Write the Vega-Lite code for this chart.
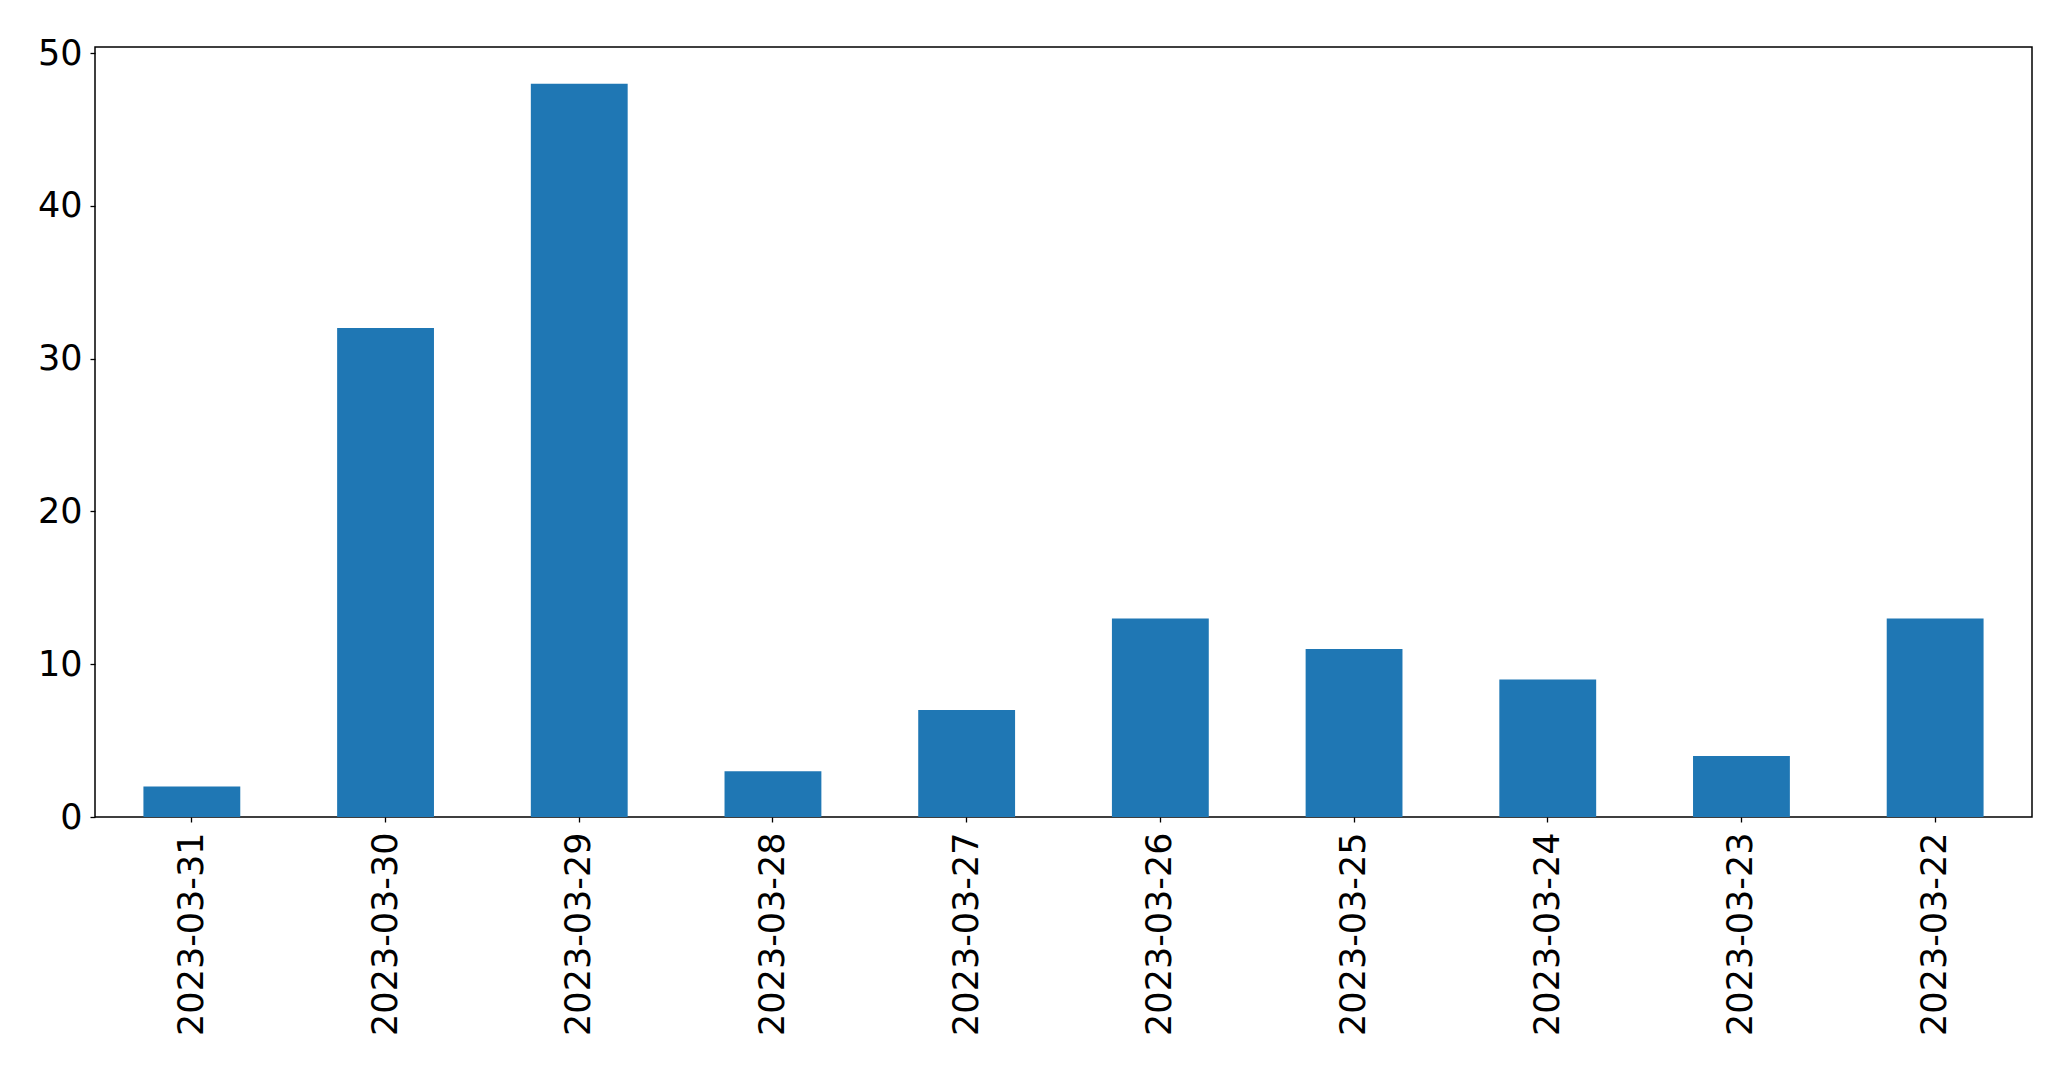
{
  "$schema": "https://vega.github.io/schema/vega-lite/v6.json",
  "autosize": "none",
  "width": 1937,
  "height": 770,
  "padding": {"left": 95, "top": 47, "right": 39, "bottom": 252},
  "background": "white",
  "config": {
    "view": {"stroke": "black", "strokeWidth": 1.5},
    "font": "DejaVu Sans",
    "axis": {"grid": false, "domain": false, "tickColor": "black", "tickWidth": 1.3, "tickSize": 5, "labelColor": "black", "labelFont": "DejaVu Sans", "labelFontSize": 35, "labelLimit": 500, "title": null}
  },
  "data": {"values": [
    {"date": "2023-03-31", "count": 2},
    {"date": "2023-03-30", "count": 32},
    {"date": "2023-03-29", "count": 48},
    {"date": "2023-03-28", "count": 3},
    {"date": "2023-03-27", "count": 7},
    {"date": "2023-03-26", "count": 13},
    {"date": "2023-03-25", "count": 11},
    {"date": "2023-03-24", "count": 9},
    {"date": "2023-03-23", "count": 4},
    {"date": "2023-03-22", "count": 13}
  ]},
  "mark": {"type": "bar", "color": "#1f77b4"},
  "encoding": {
    "x": {"field": "date", "type": "nominal", "sort": null,
      "scale": {"paddingInner": 0.5, "paddingOuter": 0.25},
      "axis": {"labelAngle": 270, "labelAlign": "right", "labelBaseline": "middle", "labelPadding": 10}},
    "y": {"field": "count", "type": "quantitative",
      "scale": {"domain": [0, 50.4], "nice": false, "zero": true},
      "axis": {"values": [0, 10, 20, 30, 40, 50], "labelPadding": 8}}
  }
}
